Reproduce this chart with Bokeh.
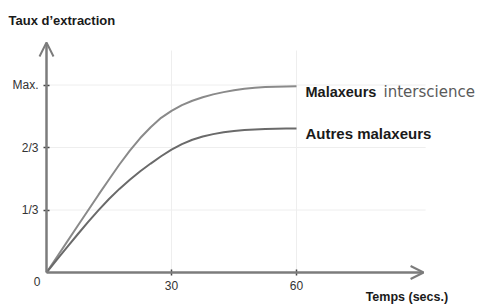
from bokeh.plotting import figure
from bokeh.models import Range1d, FixedTicker, Arrow, OpenHead
from bokeh.core.properties import value
from bokeh.embed import file_html
from bokeh.resources import INLINE

# ---- data ----
time_s = [0, 2.5, 5, 7.5, 10, 12.5, 15, 17.5, 20, 22.5, 25, 27.5, 30,
          32.5, 35, 37.5, 40, 42.5, 45, 47.5, 50, 52.5, 55, 57.5, 60]
interscience = [0, 0.083, 0.166, 0.249, 0.332, 0.415, 0.496, 0.576, 0.65, 0.717,
                0.775, 0.825, 0.862, 0.893, 0.916, 0.935, 0.95, 0.962, 0.972,
                0.98, 0.985, 0.989, 0.991, 0.992, 0.993]
autres = [0, 0.069, 0.137, 0.204, 0.27, 0.333, 0.392, 0.446, 0.495, 0.54, 0.581,
          0.62, 0.655, 0.685, 0.708, 0.725, 0.738, 0.748, 0.755, 0.76, 0.763,
          0.765, 0.767, 0.768, 0.768]
x_ticks = [30, 60]
x_tick_labels = ["30", "60"]
y_ticks = [1 / 3, 2 / 3, 1]
y_tick_labels = ["1/3", "2/3", "Max."]

AX = "#7c7c7c"
FONT = "Liberation Sans"

p = figure(width=499, height=305, output_backend="svg", toolbar_location=None,
           x_range=Range1d(-11.04, 108.72), y_range=Range1d(-0.176, 1.4507),
           min_border=0)
p.title.visible = False
p.outline_line_color = None
p.grid.visible = False
p.background_fill_color = "white"
p.border_fill_color = "white"

# axes at the origin
p.xaxis.fixed_location = 0
p.yaxis.fixed_location = 0
p.xaxis.ticker = FixedTicker(ticks=x_ticks)
p.yaxis.ticker = FixedTicker(ticks=y_ticks)
p.xaxis.major_label_overrides = {t: l for t, l in zip(x_ticks, x_tick_labels)}
p.yaxis.major_label_overrides = {t: l for t, l in zip(y_ticks, y_tick_labels)}
for ax in (p.xaxis[0], p.yaxis[0]):
    ax.axis_line_color = None
    ax.minor_tick_line_color = None
    ax.major_tick_in = 3
    ax.major_tick_out = 3
    ax.major_tick_line_color = "#444444"
    ax.major_tick_line_width = 1.5
    ax.major_label_text_font = FONT
    ax.major_label_text_font_size = "12px"
    ax.major_label_text_color = "#333333"
p.xaxis.major_label_standoff = 5
p.yaxis.major_label_standoff = 5

# faint grid
gx_end = 91.0
gy_end = 1.184
p.segment(x0=[0] * len(y_ticks), y0=y_ticks, x1=[gx_end] * len(y_ticks), y1=y_ticks,
          line_color="#eeeeee", line_width=1)
p.segment(x0=x_ticks, y0=[0] * len(x_ticks), x1=x_ticks, y1=[gy_end] * len(x_ticks),
          line_color="#eeeeee", line_width=1)

# axis arrows
p.add_layout(Arrow(end=OpenHead(size=14, line_color=AX, line_width=2),
                   x_start=0, y_start=0, x_end=0, y_end=1.2267,
                   line_color=AX, line_width=2.5))
p.add_layout(Arrow(end=OpenHead(size=13, line_color=AX, line_width=2),
                   x_start=0, y_start=0, x_end=90.5, y_end=0,
                   line_color=AX, line_width=2.5))

# curves
p.line(time_s, interscience, line_color="#8a8a8a", line_width=2)
p.line(time_s, autres, line_color="#6a6a6a", line_width=2)

# series labels
p.text(x=[time_s[-1]], y=[interscience[-1]], text=["Malaxeurs"], x_offset=9, y_offset=6,
       text_font=value(FONT), text_font_style="bold", text_font_size="14.5px",
       text_color="#1a1a1a", text_baseline="alphabetic")
p.text(x=[time_s[-1]], y=[interscience[-1]], text=["interscience"], x_offset=87, y_offset=6,
       text_font=value("DejaVu Sans"), text_font_size="15px",
       text_color="#5a5a5a", text_baseline="alphabetic")
p.text(x=[time_s[-1]], y=[autres[-1]], text=["Autres malaxeurs"], x_offset=9, y_offset=5,
       text_font=value(FONT), text_font_style="bold", text_font_size="15px",
       text_color="#1a1a1a", text_baseline="alphabetic")

# origin label
p.text(x=[0], y=[0], text=["0"], x_offset=-6, y_offset=9,
       text_font=value(FONT), text_font_size="12px", text_color="#333333",
       text_align="right", text_baseline="middle")

# axis titles
p.text(x=[-11.04], y=[1.344], text=["Taux d\u2019extraction"], x_offset=8,
       text_font=value(FONT), text_font_style="bold", text_font_size="13px",
       text_color="#1a1a1a", text_baseline="alphabetic")
p.text(x=[76.6], y=[-0.1333], text=["Temps (secs.)"],
       text_font=value(FONT), text_font_style="bold", text_font_size="12.5px",
       text_color="#1a1a1a", text_baseline="alphabetic")

open("out.html", "w").write(file_html(p, INLINE))
